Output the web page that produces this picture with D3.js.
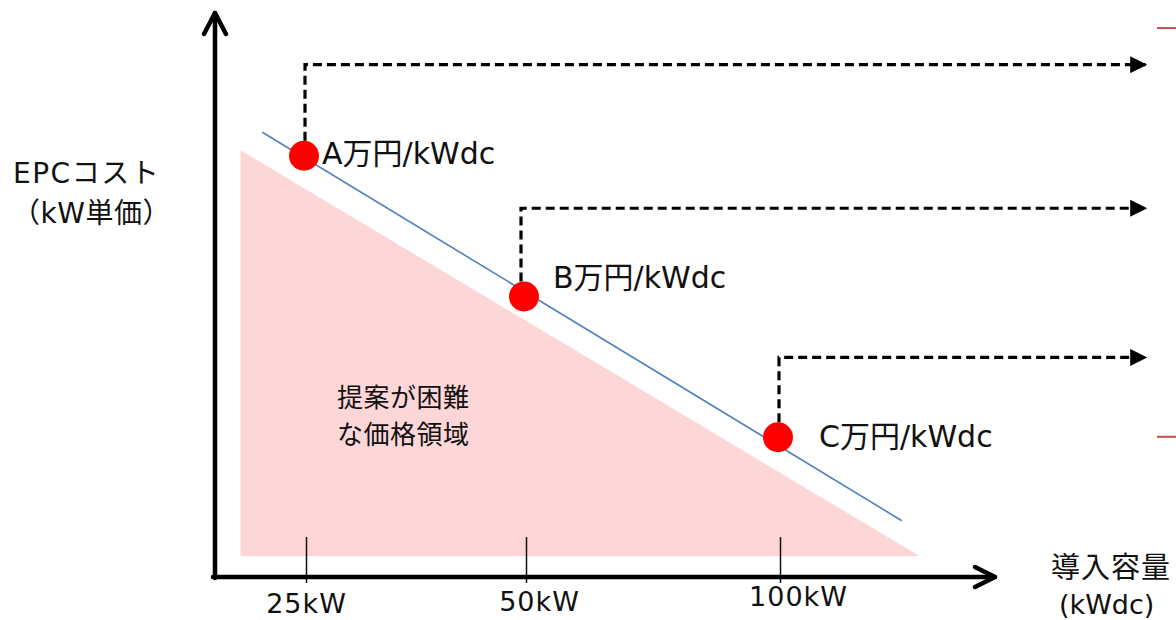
<!DOCTYPE html>
<html>
<head>
<meta charset="utf-8">
<script src="https://cdn.jsdelivr.net/npm/d3@7"></script>
<style>
  body { margin: 0; background: #fff; }
  text { font-family: "DejaVu Sans", "Noto Sans CJK JP", sans-serif; fill: #111; }
</style>
</head>
<body>
<div id="chart"></div>
<script>
// capacities (kW) and the cost level (arbitrary units) at each point
const capacities = [25, 50, 100];
const tickLabels = ["25kW", "50kW", "100kW"];
const costs = [75, 50, 25];
const pointLabels = ["A万円/kWdc", "B万円/kWdc", "C万円/kWdc"];
// level the dashed leader rises to before heading right
const leaderLevels = [91, 65.5, 39];
const leaderEnd = 151;

// the trend line and the "hard to propose" region, in data units
const trendLine = [[13, 79], [117, 10]];
const hardRegion = [[7, 75.8], [7, 3.7], [119.5, 3.7]];

const width = 1176, height = 620;

const svg = d3.select("#chart")
              .append("svg")
                .attr("width", width)
                .attr("height", height);

// x is drawn as a schematic axis, so spacing is not proportional
const x = d3.scaleLinear()
            .domain([0, 25, 50, 100, 130])
            .range([215, 306, 526, 780, 995]);

const y = d3.scaleLinear()
            .domain([0, 100])
            .range([577, 14]);

// pink region
svg.append("path")
    .datum(hardRegion)
    .attr("d", d3.line().x(d => x(d[0])).y(d => y(d[1])))
    .attr("fill", "#fdd6d8");

// blue trend line
svg.append("path")
    .datum(trendLine)
    .attr("d", d3.line().x(d => x(d[0])).y(d => y(d[1])))
    .attr("stroke", "#4f81bd")
    .attr("stroke-width", 1.6)
    .attr("fill", "none");

// x axis ticks + labels
const labelShift = [[0, 10], [13, 8], [18, 3]];
const xAxis = svg.append("g")
    .attr("transform", `translate(0,${y(0)})`)
    .call(d3.axisBottom(x)
            .tickValues(capacities)
            .tickFormat((d, i) => tickLabels[i]));
xAxis.select(".domain").remove();
xAxis.selectAll("line")
    .attr("y1", -40)
    .attr("y2", 6)
    .attr("stroke", "#111")
    .attr("stroke-width", 1.5);
xAxis.selectAll("text")
    .attr("font-size", 27)
    .attr("font-family", null)
    .attr("letter-spacing", 1)
    .attr("fill", "#111")
    .attr("y", 16)
    .attr("dx", (d, i) => labelShift[i][0])
    .attr("dy", (d, i) => 10 + labelShift[i][1] + "px");

// main axes with open arrowheads
const axisG = svg.append("g")
    .attr("stroke", "#000")
    .attr("stroke-width", 4.5)
    .attr("fill", "none")
    .attr("stroke-linecap", "round")
    .attr("stroke-linejoin", "round");
axisG.append("line")
    .attr("x1", x(0)).attr("y1", y(0) + 1)
    .attr("x2", x(0)).attr("y2", y(100) - 1);
axisG.append("polyline")
    .attr("points", [[x(0) - 11, y(100) + 20], [x(0), y(100) - 1], [x(0) + 11, y(100) + 20]].join(" "));
axisG.append("line")
    .attr("x1", x(0) - 2).attr("y1", y(0))
    .attr("x2", x(130)).attr("y2", y(0));
axisG.append("polyline")
    .attr("points", [[x(130) - 20, y(0) - 10], [x(130), y(0)], [x(130) - 20, y(0) + 10]].join(" "));

// dashed leaders
svg.append("defs").append("marker")
    .attr("id", "tri")
    .attr("viewBox", "0 0 10 10")
    .attr("refX", 9).attr("refY", 5)
    .attr("markerUnits", "userSpaceOnUse")
    .attr("markerWidth", 18).attr("markerHeight", 17)
    .attr("orient", "auto")
  .append("path")
    .attr("d", "M0,0L10,5L0,10Z")
    .attr("fill", "#000");

const pts = capacities.map((c, i) => ({cap: c, cost: costs[i], lvl: leaderLevels[i], label: pointLabels[i]}));
const leaderX = [-1, -5, -1];

svg.append("g")
  .selectAll("path")
  .data(pts)
  .join("path")
    .attr("d", (d, i) => d3.line()([
        [x(d.cap) + leaderX[i], y(d.cost) - 14],
        [x(d.cap) + leaderX[i], y(d.lvl)],
        [x(leaderEnd), y(d.lvl)]
    ]))
    .attr("fill", "none")
    .attr("stroke", "#000")
    .attr("stroke-width", 3.2)
    .attr("stroke-dasharray", "9,5")
    .attr("marker-end", "url(#tri)");

// red points
svg.append("g")
  .selectAll("circle")
  .data(pts)
  .join("circle")
    .attr("cx", d => x(d.cap) - 2)
    .attr("cy", d => y(d.cost) + 1)
    .attr("r", 15)
    .attr("fill", "#ff0000");

// point labels
const labelOff = [[16, 9], [27, -8], [39, 11]];
svg.append("g")
  .selectAll("text")
  .data(pts)
  .join("text")
    .attr("x", (d, i) => x(d.cap) + labelOff[i][0])
    .attr("y", (d, i) => y(d.cost) + labelOff[i][1])
    .attr("font-size", 30)
    .text(d => d.label);

// region label
svg.append("text")
    .attr("x", 337).attr("y", 407)
    .attr("font-size", 26)
    .attr("letter-spacing", 0.5)
    .text("提案が困難");
svg.append("text")
    .attr("x", 337).attr("y", 444)
    .attr("font-size", 26)
    .attr("letter-spacing", 0.5)
    .text("な価格領域");

// axis titles
svg.append("text")
    .attr("x", 13).attr("y", 183)
    .attr("font-size", 28)
    .attr("letter-spacing", 1.5)
    .text("EPCコスト");
svg.append("text")
    .attr("x", 12).attr("y", 223)
    .attr("font-size", 28)
    .attr("letter-spacing", 0.5)
    .text("（kW単価）");
svg.append("text")
    .attr("x", 1051).attr("y", 578)
    .attr("font-size", 29)
    .attr("letter-spacing", 1)
    .text("導入容量");
svg.append("text")
    .attr("x", 1059).attr("y", 614)
    .attr("font-size", 27)
    .text("(kWdc)");

// partial red marks at right edge
svg.append("g")
  .selectAll("line")
  .data([97.5, 24.9])
  .join("line")
    .attr("x1", 1157).attr("x2", 1176)
    .attr("y1", d => y(d)).attr("y2", d => y(d))
    .attr("stroke", "#c0504d")
    .attr("stroke-width", 2);
</script>
</body>
</html>
